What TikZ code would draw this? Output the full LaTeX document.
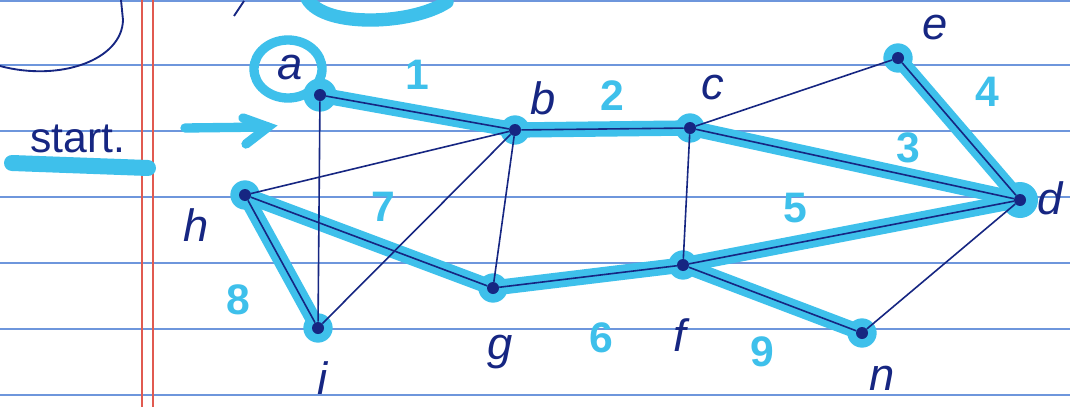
\documentclass[tikz,border=0pt]{standalone}
\usepackage{fontspec}
\setmainfont{Liberation Sans}
\definecolor{pen}{RGB}{22,38,130}
\definecolor{hl}{RGB}{62,192,235}
\definecolor{rule}{RGB}{110,150,220}
\definecolor{margin}{RGB}{225,90,80}
\begin{document}
\begin{tikzpicture}[x=0.75pt,y=-0.75pt,
  dot/.style={circle,fill=pen,inner sep=0pt,minimum size=9pt},
  glow/.style={circle,fill=hl,inner sep=0pt,minimum size=22pt},
  lbl/.style={text=pen,font=\fontsize{34}{34}\selectfont\itshape},
  num/.style={text=hl,font=\fontsize{32}{32}\selectfont\bfseries},
  edge/.style={draw=pen,line width=1.2pt},
  hledge/.style={draw=hl,line width=11.5pt,line cap=round}]
\useasboundingbox (0,0) rectangle (1070,407);
\fill[white] (0,0) rectangle (1070,407);
% paper
\foreach \yy in {1,65,131,197,263,329,395}
  \draw[rule,line width=1.2pt] (0,\yy) -- (1070,\yy);
\draw[margin,line width=1pt] (142,0) -- (142,407);
\draw[margin,line width=1pt] (153,0) -- (153,407);
% remnants at top
\draw[pen,line width=1.4pt] (0,66) .. controls (60,82) and (122,60) .. (123,20) -- (121,0);
\draw[pen,line width=1.4pt] (234,16) -- (244,1);
\draw[hl,line width=10pt,line cap=round] (306,-4) .. controls (318,28) and (410,26) .. (447,2);
% start
\draw[hl,line width=12pt,line cap=round] (12,163) -- (148,168);
\node[text=pen,font=\fontsize{32}{32}\selectfont,anchor=base] (start) at (78,152) {start.};
\draw[hl,line width=7pt,line cap=round] (185,128) -- (268,127);
\draw[hl,line width=7pt,line cap=round] (243,118) -- (268,127) -- (246,144);
% vertex positions
\coordinate (pa) at (320,95);
\coordinate (pb) at (515,130);
\coordinate (pc) at (690,128);
\coordinate (pe) at (898,58);
\coordinate (pd) at (1020,200);
\coordinate (ph) at (245,195);
\coordinate (pi) at (318,328);
\coordinate (pg) at (493,288);
\coordinate (pf) at (683,265);
\coordinate (pn) at (862,333);
% highlight glows
\foreach \p in {pa,pb,pc,pe,pd,ph,pi,pg,pf,pn}
  \node[glow] at (\p) {};
\node[glow,minimum size=27pt] at (pd) {};
\node[glow,minimum size=25pt] at (pa) {};
% highlighted edges
\draw[hledge] (pa) -- (pb);
\draw[hledge] (pb) -- (pc);
\draw[hledge] (pc) -- (pd);
\draw[hledge] (pe) -- (pd);
\draw[hledge] (pf) -- (pd);
\draw[hledge] (pg) -- (pf);
\draw[hledge] (ph) -- (pg);
\draw[hledge] (ph) -- (pi);
\draw[hledge] (pf) -- (pn);
% circle round a
\draw[hl,line width=7pt] (288,69) ellipse [x radius=34, y radius=29];
% vertices
\node[dot] (a) at (pa) {};
\node[dot] (b) at (pb) {};
\node[dot] (c) at (pc) {};
\node[dot] (e) at (pe) {};
\node[dot] (d) at (pd) {};
\node[dot] (h) at (ph) {};
\node[dot] (i) at (pi) {};
\node[dot] (g) at (pg) {};
\node[dot] (f) at (pf) {};
\node[dot] (n) at (pn) {};
% edges
\draw[edge] (a) -- (b);
\draw[edge] (a) -- (i);
\draw[edge] (h) -- (b);
\draw[edge] (h) -- (i);
\draw[edge] (h) -- (g);
\draw[edge] (i) -- (b);
\draw[edge] (b) -- (g);
\draw[edge] (b) -- (c);
\draw[edge] (c) -- (e);
\draw[edge] (c) -- (f);
\draw[edge] (c) -- (d);
\draw[edge] (e) -- (d);
\draw[edge] (f) -- (d);
\draw[edge] (d) -- (n);
\draw[edge] (f) -- (n);
\draw[edge] (g) -- (f);
% vertex labels
\node[lbl] (la) at (290,68) {a};
\node[lbl] (lb) at (543,98) {b};
\node[lbl] (lc) at (713,88) {c};
\node[lbl] (le) at (935,28) {e};
\node[lbl] (ld) at (1050,198) {d};
\node[lbl] (lh) at (196,225) {h};
\node[lbl] (li) at (323,378) {i};
\node[lbl] (lg) at (500,352) {g};
\node[lbl] (lf) at (680,335) {f};
\node[lbl] (ln) at (882,378) {n};
% weights
\node[num] (w1) at (417,75) {1};
\node[num] (w2) at (612,96) {2};
\node[num] (w3) at (908,148) {3};
\node[num] (w4) at (987,92) {4};
\node[num] (w5) at (795,208) {5};
\node[num] (w6) at (601,338) {6};
\node[num] (w7) at (383,207) {7};
\node[num] (w8) at (238,300) {8};
\node[num] (w9) at (762,352) {9};
\end{tikzpicture}
\end{document}
